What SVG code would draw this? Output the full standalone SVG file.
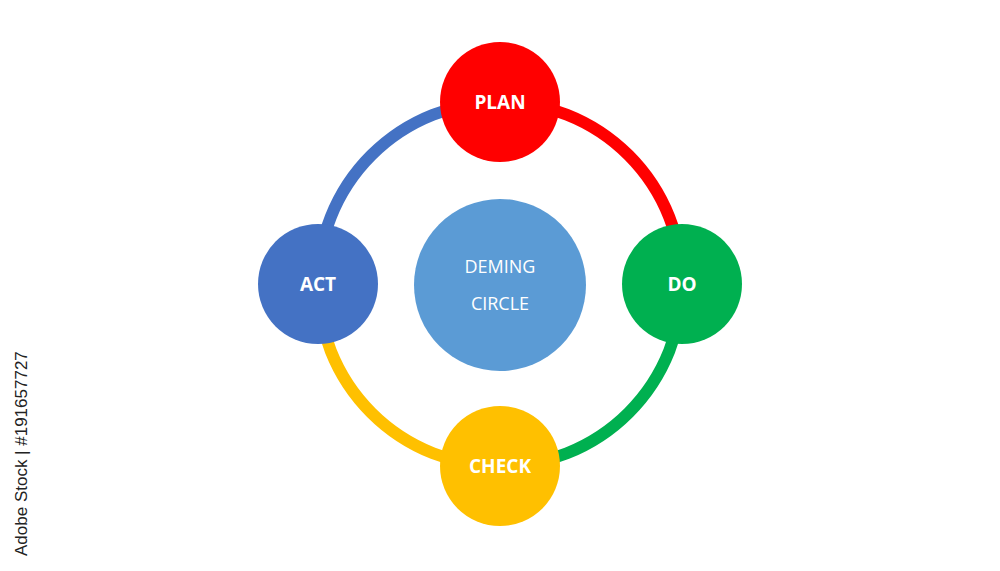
<svg xmlns="http://www.w3.org/2000/svg" width="1000" height="571" viewBox="0 0 1000 571">
<style>
.arc{fill:none;stroke-width:12}
.lbl{font-family:"Open Sans","Liberation Sans",sans-serif;font-weight:bold;font-size:19px;fill:#fff;text-anchor:middle}
.ctr{font-family:"Open Sans","Liberation Sans",sans-serif;font-size:18px;fill:#fff;text-anchor:middle}
</style>
<rect width="1000" height="571" fill="#fff"/>
<g id="connectors">
<path class="arc" stroke="#ff0000" d="M500,102 A182,182 0 0 1 682,284"/>
<path class="arc" stroke="#00b050" d="M682,284 A182,182 0 0 1 500,466"/>
<path class="arc" stroke="#ffc000" d="M500,466 A182,182 0 0 1 318,284"/>
<path class="arc" stroke="#4472c4" d="M318,284 A182,182 0 0 1 500,102"/>
</g>
<g id="center"><circle cx="500" cy="285" r="86" fill="#5b9bd5"/>
<text class="ctr" x="500" y="273">DEMING</text><text class="ctr" x="500" y="310">CIRCLE</text></g>
<g id="plan"><circle cx="500" cy="102" r="60" fill="#ff0000"/><text class="lbl" x="500" y="109">PLAN</text></g>
<g id="do"><circle cx="682" cy="284" r="60" fill="#00b050"/><text class="lbl" x="682" y="291">DO</text></g>
<g id="check"><circle cx="500" cy="466" r="60" fill="#ffc000"/><text class="lbl" x="500" y="473">CHECK</text></g>
<g id="act"><circle cx="318" cy="284" r="60" fill="#4472c4"/><text class="lbl" x="318" y="291">ACT</text></g>
<text x="27" y="556" transform="rotate(-90 27 556)" font-family="Liberation Sans,sans-serif" font-size="17" fill="#222">Adobe Stock | #191657727</text>
</svg>
